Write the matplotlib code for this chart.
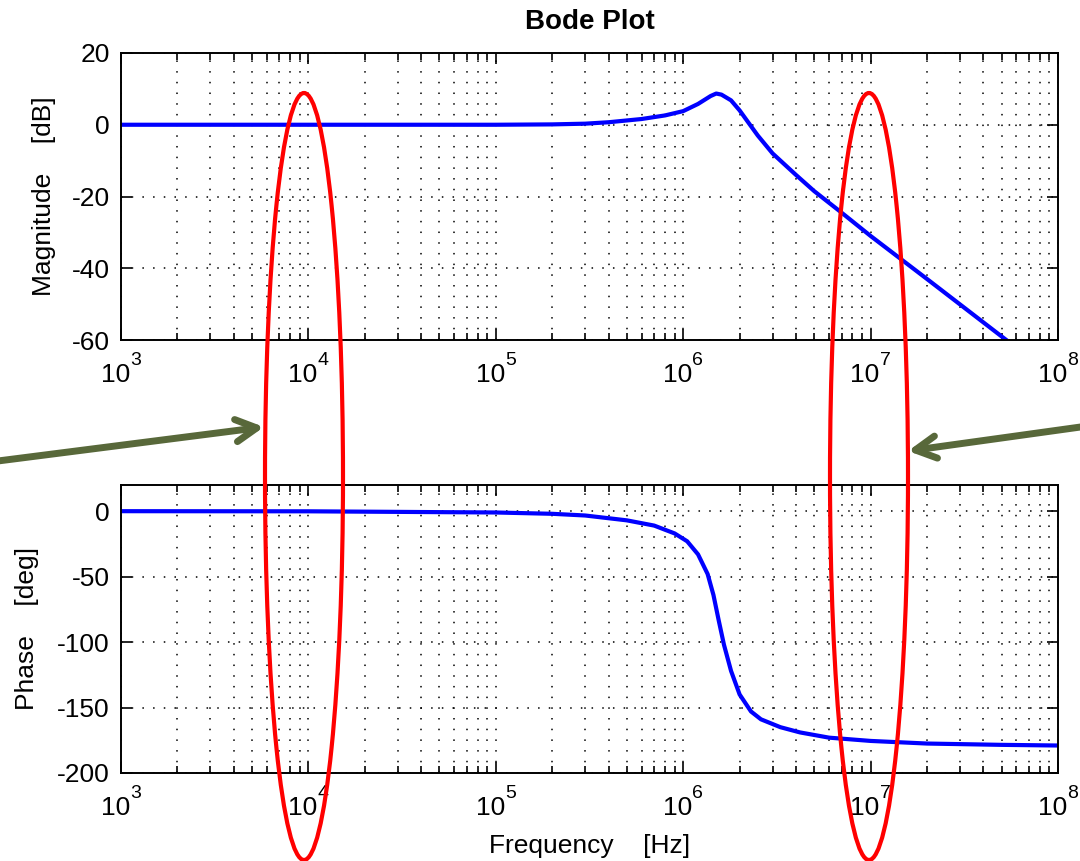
import numpy as np
import matplotlib
matplotlib.use('Agg')
import matplotlib.pyplot as plt
from matplotlib.patches import Ellipse
from matplotlib.ticker import LogLocator, NullFormatter

plt.rcParams['font.family'] = ['Liberation Sans', 'DejaVu Sans']
plt.rcParams['axes.unicode_minus'] = False

# magnitude [Hz], [dB]
mag_freq = [1e3, 1e4, 1e5, 2e5, 3e5, 4e5, 6e5, 8e5, 1e6, 1.2e6, 1.4e6, 1.5e6,
            1.6e6, 1.8e6, 2e6, 2.2e6, 2.5e6, 3e6, 4e6, 5e6, 7e6, 1e7, 2e7, 5e7, 1e8]
mag_db = [0, 0, 0, 0.1, 0.3, 0.7, 1.6, 2.6, 3.8, 5.8, 8.0, 8.7,
          8.4, 6.8, 4.0, 1.0, -3.0, -8.0, -14.0, -18.5, -24.5, -31.0, -43.0, -59.0, -71.0]

# phase [deg]
ph_freq = [1e3, 1e4, 1e5, 2e5, 3e5, 5e5, 7e5, 9e5, 1.05e6, 1.2e6, 1.35e6, 1.45e6,
           1.55e6, 1.65e6, 1.8e6, 2e6, 2.3e6, 2.6e6, 3.3e6, 4.2e6, 6e6, 1e7, 2e7, 5e7, 1e8]
ph_deg = [0, -0.1, -1, -2, -3.3, -7, -11, -17, -23, -33, -48, -64,
          -84, -102, -122, -140, -153, -159, -165, -169, -173, -175.5, -177.5, -178.5, -179]

mag_ticks = [20, 0, -20, -40, -60]
ph_ticks = [0, -50, -100, -150, -200]

W, H = 1080, 861
fig = plt.figure(figsize=(W / 100, H / 100), dpi=100)

ax1 = fig.add_axes([121 / W, 1 - 340 / H, 937 / W, 287 / H])
ax2 = fig.add_axes([121 / W, 1 - 773 / H, 937 / W, 288 / H])


def style(ax):
    ax.set_xscale('log')
    ax.set_xlim(1e3, 1e8)
    ax.xaxis.set_major_locator(LogLocator(base=10, numticks=10))
    ax.xaxis.set_minor_locator(LogLocator(base=10, subs=np.arange(2, 10), numticks=10))
    ax.xaxis.set_major_formatter(NullFormatter())
    ax.xaxis.set_minor_formatter(NullFormatter())
    ax.grid(True, which='both', color='k', lw=1.1, ls=(0, (1, 6)))
    ax.tick_params(which='both', direction='in', top=True, right=True, width=1.2)
    ax.tick_params(which='major', length=8)
    ax.tick_params(which='minor', length=5)
    ax.tick_params(axis='y', labelsize=19, pad=8)
    for s in ax.spines.values():
        s.set_linewidth(1.4)
    # MATLAB style decade labels: "10" with a raised exponent
    lo, hi = ax.get_xlim()
    for t in ax.get_xticks():
        if t < lo * 0.999 or t > hi * 1.001:
            continue
        ax.annotate('10', xy=(t, 0), xycoords=('data', 'axes fraction'),
                    xytext=(9, -23), textcoords='offset pixels',
                    ha='right', va='top', fontsize=19, annotation_clip=False)
        ax.annotate('%d' % round(np.log10(t)), xy=(t, 0), xycoords=('data', 'axes fraction'),
                    xytext=(9, -12), textcoords='offset pixels',
                    ha='left', va='top', fontsize=14, annotation_clip=False)


ax1.plot(mag_freq, mag_db, color='#0000ff', lw=3)
style(ax1)
ax1.set_ylim(-60, 20)
ax1.set_yticks(mag_ticks)
ax1.set_ylabel('Magnitude    [dB]', fontsize=19)
ax1.yaxis.set_label_coords((56 - 121) / 937, 0.5)
ax1.set_title('Bode Plot', fontsize=20, fontweight='bold', pad=17)

ax2.plot(ph_freq, ph_deg, color='#0000ff', lw=3)
style(ax2)
ax2.set_ylim(-200, 20)
ax2.set_yticks(ph_ticks)
ax2.set_ylabel('Phase    [deg]', fontsize=19)
ax2.yaxis.set_label_coords((39 - 121) / 937, 0.5)
ax2.set_xlabel('Frequency    [Hz]', fontsize=19)
ax2.xaxis.set_label_coords(0.5, -(858 - 773) / 288)
ax2.xaxis.label.set_va('bottom')

# overlay in pixel coordinates for the marks drawn on top
ov = fig.add_axes([0, 0, 1, 1])
ov.set_xlim(0, W)
ov.set_ylim(H, 0)
ov.axis('off')
ov.patch.set_alpha(0)
for cx in (304, 869):
    ov.add_patch(Ellipse((cx, 476.5), 78, 767, fill=False, ec='#ff0000', lw=3))
arrow = dict(arrowstyle='->,head_length=1.5,head_width=0.8', color='#58683a', lw=5,
             shrinkA=0, shrinkB=0)
ov.annotate('', xy=(264, 427), xytext=(-10, 462), arrowprops=arrow)
ov.annotate('', xy=(908, 451), xytext=(1095, 425), arrowprops=arrow)

fig.savefig('out.png', dpi=100)
